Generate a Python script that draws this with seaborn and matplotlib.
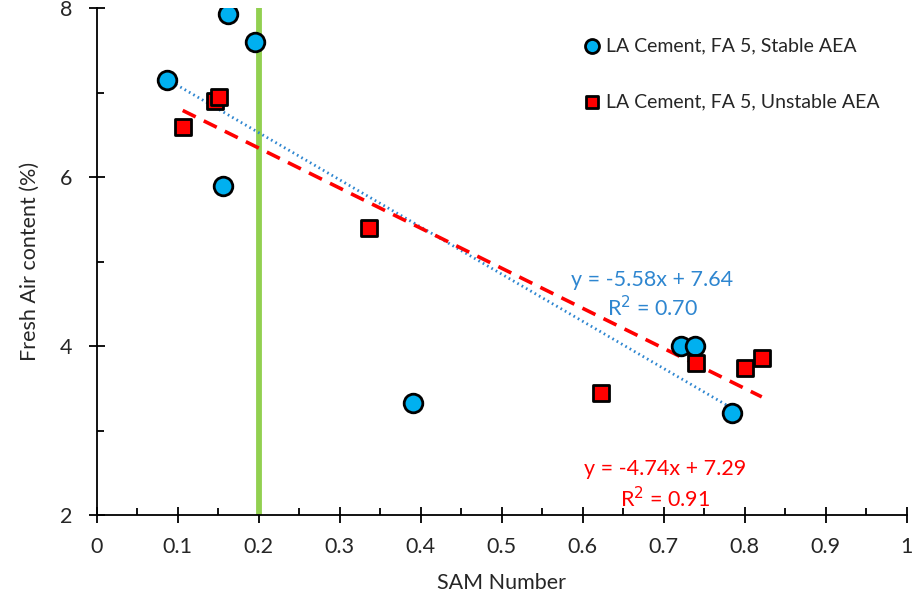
import matplotlib
matplotlib.use("Agg")
import matplotlib.pyplot as plt
import seaborn as sns
import numpy as np
import pandas as pd
from matplotlib.ticker import MultipleLocator, FuncFormatter

# Data
stable_x = [0.087, 0.162, 0.195, 0.156, 0.390, 0.721, 0.738, 0.784]
stable_y = [7.15, 7.93, 7.60, 5.89, 3.32, 4.00, 4.00, 3.21]
unstable_x = [0.106, 0.146, 0.151, 0.336, 0.622, 0.740, 0.800, 0.821]
unstable_y = [6.59, 6.90, 6.95, 5.40, 3.44, 3.80, 3.74, 3.86]
stable_fit = [-5.58, 7.64]      # slope, intercept
unstable_fit = [-4.74, 7.29]
stable_r2 = 0.70
unstable_r2 = 0.91
threshold_x = 0.2
labels = ["LA Cement, FA 5, Stable AEA", "LA Cement, FA 5, Unstable AEA"]

sns.set_style("white")
plt.rcParams['font.family'] = ['Lato', 'DejaVu Sans']

fig = plt.figure(figsize=(9.14, 5.92), dpi=100)
ax = fig.add_axes([0.106, 0.130, 0.886, 0.8565])

blue = "#00B0F0"
red = "#FF0000"
tcol = "#262626"
fs = 15.5

# threshold line
ax.axvline(threshold_x, color="#92D050", lw=4.2, zorder=1)

# trendlines
sx = np.array([min(stable_x), max(stable_x)])
ux = np.array([min(unstable_x), max(unstable_x)])
sns.lineplot(x=sx, y=stable_fit[0] * sx + stable_fit[1], ax=ax, color="#2E86D0",
             lw=2, linestyle=(0, (0.6, 1.2)), zorder=2)
sns.lineplot(x=ux, y=unstable_fit[0] * ux + unstable_fit[1], ax=ax, color=red,
             lw=2.6, linestyle=(0, (4, 2.5)), zorder=2)

# points
sns.scatterplot(x=stable_x, y=stable_y, ax=ax, marker="o", s=180, color=blue,
                edgecolor="black", linewidth=2, label=labels[0], zorder=3)
sns.scatterplot(x=unstable_x, y=unstable_y, ax=ax, marker="s", s=140, color=red,
                edgecolor="black", linewidth=2, label=labels[1], zorder=3)

ax.set_xlim(0, 1)
ax.set_ylim(2, 8)
ax.xaxis.set_major_locator(MultipleLocator(0.1))
ax.xaxis.set_minor_locator(MultipleLocator(0.05))
ax.yaxis.set_major_locator(MultipleLocator(2))
ax.yaxis.set_minor_locator(MultipleLocator(1))
ax.xaxis.set_major_formatter(FuncFormatter(lambda v, p: f"{v:.1f}".rstrip("0").rstrip(".") if abs(v) > 1e-9 else "0"))
ax.yaxis.set_major_formatter(FuncFormatter(lambda v, p: f"{v:g}"))
ax.tick_params(which="major", direction="inout", length=12, width=1.3, color="black",
               labelsize=fs, labelcolor=tcol)
ax.tick_params(axis="x", which="major", pad=10)
ax.tick_params(axis="y", which="major", pad=12)
ax.tick_params(which="minor", direction="in", length=5, width=1.3, color="black")
ax.tick_params(axis="x", which="both", bottom=True)
ax.tick_params(axis="y", which="both", left=True)
for s in ["top", "right"]:
    ax.spines[s].set_visible(False)
for s in ["left", "bottom"]:
    ax.spines[s].set_color("black")
    ax.spines[s].set_linewidth(1.3)

ax.set_xlabel("SAM Number", fontsize=fs, color=tcol, labelpad=11)
ax.set_ylabel("Fresh Air content (%)", fontsize=fs, color=tcol, labelpad=14)

tfs = 15.5
ax.text(0.686, 4.78, f"y = {stable_fit[0]:.2f}x + {stable_fit[1]:.2f}", color="#2E86D0",
        fontsize=tfs, ha="center", va="center")
ax.text(0.686, 4.45, f"R$^2$ = {stable_r2:.2f}", color="#2E86D0",
        fontsize=tfs, ha="center", va="center")
ax.text(0.702, 2.54, f"y = {unstable_fit[0]:.2f}x + {unstable_fit[1]:.2f}", color=red,
        fontsize=tfs, ha="center", va="center")
ax.text(0.702, 2.20, f"R$^2$ = {unstable_r2:.2f}", color=red,
        fontsize=tfs, ha="center", va="center")

leg = ax.legend(loc="upper left", bbox_to_anchor=(0.593, 0.957), frameon=False,
                fontsize=14, labelspacing=2.0, handlelength=0.7, handletextpad=0.4,
                markerscale=0.75, borderaxespad=0)
for t in leg.get_texts():
    t.set_color(tcol)

fig.savefig("out.png", dpi=100)
